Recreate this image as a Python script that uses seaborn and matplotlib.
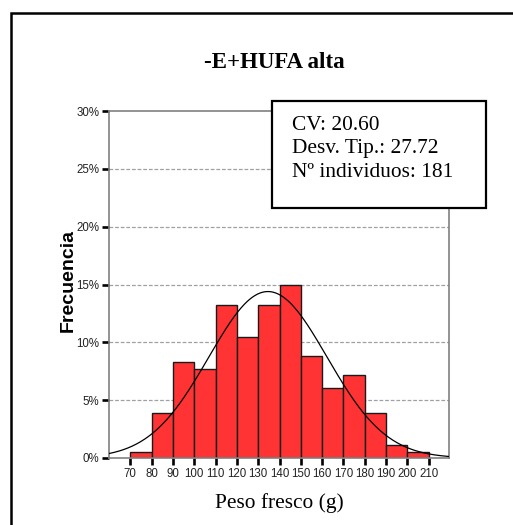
import numpy as np
import pandas as pd
import matplotlib
matplotlib.use("Agg")
import matplotlib.pyplot as plt
import seaborn as sns
from matplotlib.patches import Rectangle

# ---- data ----
bin_edges = [70, 80, 90, 100, 110, 120, 130, 140, 150, 160, 170, 180, 190, 200, 210]
counts = [1, 7, 15, 14, 24, 19, 24, 27, 16, 11, 13, 7, 2, 1]
n_total = 181
cv = 20.60
sd = 27.72
mean_val = sd / (cv / 100.0)
x_ticks = [70, 80, 90, 100, 110, 120, 130, 140, 150, 160, 170, 180, 190, 200, 210]
y_ticks = [0, 5, 10, 15, 20, 25, 30]
title = "-E+HUFA alta"
xlabel = "Peso fresco (g)"
ylabel = "Frecuencia"
stats_lines = ["CV: 20.60", "Desv. Tip.: 27.72", "Nº individuos: 181"]

sns.set_theme(style="white")
plt.rcParams['font.family'] = ['Liberation Sans', 'DejaVu Sans']
plt.rcParams['text.color'] = 'black'
SERIF = ["Liberation Serif", "DejaVu Serif"]

centers = [(a + b) / 2 for a, b in zip(bin_edges[:-1], bin_edges[1:])]
pct = [c / n_total * 100 for c in counts]
df = pd.DataFrame({"x": centers, "w": pct})

fig = plt.figure(figsize=(5.13, 5.25), dpi=100)
fig.patch.set_facecolor("white")
ax = fig.add_axes([109/513, 1-458/525, (449-109)/513, (458-111)/525])
ax.set_facecolor("white")

# gridlines
for yv in y_ticks[1:-1]:
    ax.axhline(yv, color="#a0a0a0", lw=0.9, ls=(0, (3, 1.5)), zorder=0)

sns.histplot(data=df, x="x", weights="w", bins=bin_edges, stat="count",
             color="#ff3333", alpha=1.0, edgecolor="#1a1a1a", linewidth=1.0,
             ax=ax, zorder=2)

# fitted normal curve (percent per 10-unit bin)
bin_w = 10
xs = np.linspace(60, 219.5, 400)
pdf = np.exp(-0.5 * ((xs - mean_val) / sd) ** 2) / (sd * np.sqrt(2 * np.pi))
curve = pd.DataFrame({"x": xs, "y": pdf * bin_w * 100})
sns.lineplot(data=curve, x="x", y="y", color="black", lw=0.9, ax=ax, zorder=3)

ax.set_xlim(60, 219.5)
ax.set_ylim(0, 30)
ax.set_xticks(x_ticks)
ax.set_xticklabels([str(v) for v in x_ticks], fontsize=8.3, color="#222222")
ax.set_yticks(y_ticks)
ax.set_yticklabels([f"{v}%" for v in y_ticks], fontsize=8.3, color="#222222")
ax.tick_params(axis="both", which="major", length=5, width=1.9, color="black",
               pad=2, bottom=True, left=True)
ax.set_xlabel("")
ax.set_ylabel("")
for s in ax.spines.values():
    s.set_color("#808080")
    s.set_linewidth(1.2)

# title and labels
fig.text(274/513, 1-62/525, title, ha="center", va="center", fontsize=16.5,
         fontweight="bold", family=SERIF, color="black")
fig.text(279/513, 1-503/525, xlabel, ha="center", va="center", fontsize=15.4,
         family=SERIF, color="black")
fig.text(68/513, 1-280/525, ylabel, ha="center", va="center", rotation=90,
         fontsize=14, fontweight="bold", color="black")

# outer frame
fig.patches.append(Rectangle((11/513, -0.2), 1.2, 0.2 + (1-13/525),
                             transform=fig.transFigure, fill=False,
                             edgecolor="black", lw=1.8, zorder=0))

# stats box
bx0, bx1 = 272/513, 486/513
by0, by1 = 1-208/525, 1-101/525
fig.patches.append(Rectangle((bx0, by0), bx1-bx0, by1-by0, transform=fig.transFigure,
                             facecolor="white", edgecolor="black", lw=1.6, zorder=5))
for i, line in enumerate(stats_lines):
    fig.text(292/513, 1-(125 + i*23.5)/525, line, ha="left", va="center",
             fontsize=15.4, family=SERIF, zorder=6, color="black")

fig.savefig("out.png", dpi=100)
